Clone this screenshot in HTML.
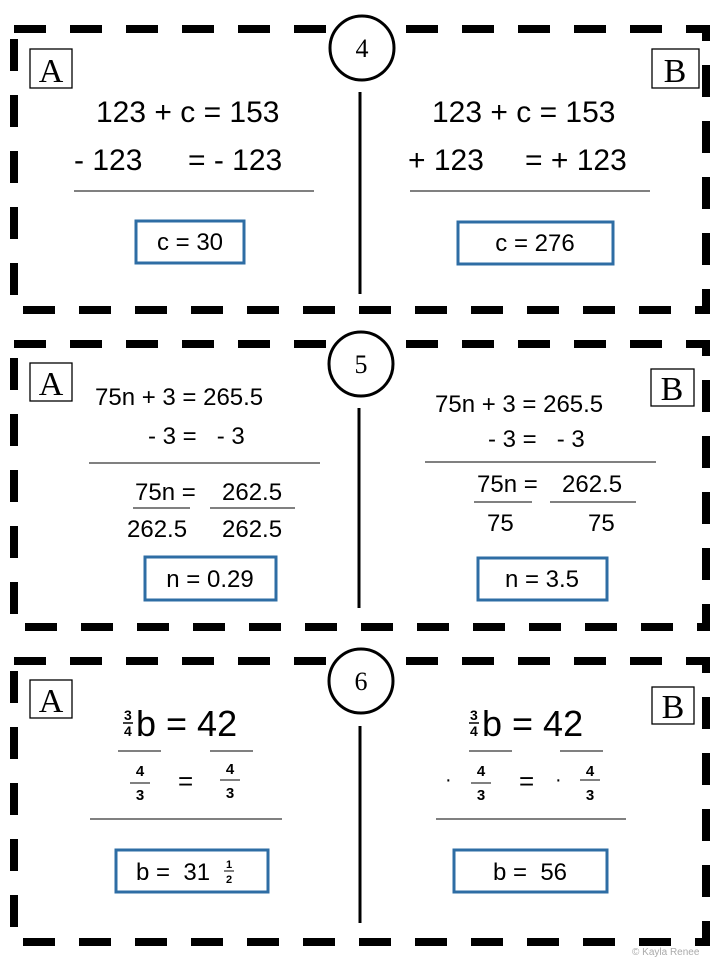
<!DOCTYPE html>
<html><head><meta charset="utf-8"><style>
html,body{margin:0;padding:0;background:#fff;}
svg{display:block;}
text{font-family:"Liberation Sans",sans-serif;fill:#000;white-space:pre;}
.l{font-family:"Liberation Serif",serif;font-size:34px;}
</style></head><body>
<svg width="720" height="960" viewBox="0 0 720 960" xml:space="preserve">
<g fill="none" stroke="#000" stroke-width="8" stroke-dasharray="32 24">
<rect x="14" y="29" width="692" height="281"/>
<rect x="14" y="344" width="692" height="283"/>
<rect x="14" y="661" width="692" height="281"/>
</g>
<g stroke="#000" stroke-width="3">
<line x1="360" y1="92" x2="360" y2="294"/>
<line x1="359" y1="408" x2="359" y2="608"/>
<line x1="360" y1="726" x2="360" y2="923"/>
</g>
<g fill="#fff" stroke="#000" stroke-width="3">
<circle cx="362" cy="48" r="32"/>
<circle cx="361" cy="364" r="32"/>
<circle cx="361" cy="681" r="32"/>
</g>
<g text-anchor="middle">
<text x="362" y="57" class="l" style="font-size:26px">4</text>
<text x="361" y="373" class="l" style="font-size:26px">5</text>
<text x="361" y="690" class="l" style="font-size:26px">6</text>
</g>
<g fill="#fff" stroke="#000" stroke-width="1.3">
<rect x="30" y="49" width="42" height="39"/>
<rect x="652" y="49" width="47" height="39"/>
<rect x="30" y="363" width="42" height="38"/>
<rect x="651" y="369" width="43" height="37"/>
<rect x="30" y="680" width="42" height="38"/>
<rect x="652" y="687" width="42" height="37"/>
</g>
<g text-anchor="middle">
<text x="51" y="82" class="l">A</text>
<text x="675" y="82" class="l">B</text>
<text x="51" y="395" class="l">A</text>
<text x="672" y="400" class="l">B</text>
<text x="51" y="712" class="l">A</text>
<text x="673" y="718" class="l">B</text>
</g>
<g font-size="30">
<text x="96" y="122">123 + c = 153</text>
<text x="74" y="170">- 123</text><text x="188" y="170">= - 123</text>
<text x="432" y="122">123 + c = 153</text>
<text x="408" y="170">+ 123</text><text x="525" y="170">= + 123</text>
</g>
<g stroke="#000" stroke-width="1">
<line x1="74" y1="191" x2="314" y2="191"/>
<line x1="410" y1="191" x2="650" y2="191"/>
</g>
<g fill="none" stroke="#2e6da4" stroke-width="3">
<rect x="136" y="221" width="108" height="42"/>
<rect x="458" y="222" width="155" height="42"/>
<rect x="145" y="557" width="131" height="43"/>
<rect x="478" y="558" width="129" height="42"/>
<rect x="116" y="850" width="152" height="42"/>
<rect x="454" y="850" width="153" height="42"/>
</g>
<g font-size="24" text-anchor="middle">
<text x="190" y="250">c = 30</text>
<text x="535" y="251">c = 276</text>
<text x="210" y="587">n = 0.29</text>
<text x="542" y="587">n = 3.5</text>
<text x="530" y="880">b =  56</text>
</g>
<text x="136" y="880" font-size="24">b =  31</text>
<text x="226" y="868" font-size="11" font-weight="bold">1</text>
<line x1="224" y1="871" x2="234" y2="871" stroke="#000" stroke-width="1"/>
<text x="226" y="883" font-size="11" font-weight="bold">2</text>
<g font-size="24">
<text x="95" y="405">75n + 3 = 265.5</text>
<text x="148" y="444">- 3 =   - 3</text>
<text x="135" y="500">75n =</text><text x="222" y="500">262.5</text>
<text x="127" y="537">262.5</text><text x="222" y="537">262.5</text>
<text x="435" y="412">75n + 3 = 265.5</text>
<text x="488" y="447">- 3 =   - 3</text>
<text x="477" y="492">75n =</text><text x="562" y="492">262.5</text>
<text x="487" y="531">75</text><text x="588" y="531">75</text>
</g>
<g stroke="#000" stroke-width="1">
<line x1="89" y1="463" x2="320" y2="463"/>
<line x1="133" y1="508" x2="190" y2="508"/>
<line x1="210" y1="508" x2="295" y2="508"/>
<line x1="425" y1="462" x2="656" y2="462"/>
<line x1="474" y1="502" x2="532" y2="502"/>
<line x1="550" y1="502" x2="636" y2="502"/>
<line x1="90" y1="819" x2="282" y2="819"/>
<line x1="436" y1="819" x2="626" y2="819"/>
<line x1="118" y1="751" x2="161" y2="751"/>
<line x1="210" y1="751" x2="253" y2="751"/>
<line x1="469" y1="751" x2="512" y2="751"/>
<line x1="560" y1="751" x2="603" y2="751"/>
</g>
<g>
<text x="124" y="720" font-size="14" font-weight="bold">3</text>
<line x1="123" y1="723" x2="133" y2="723" stroke="#000" stroke-width="1.5"/>
<text x="124" y="736" font-size="14" font-weight="bold">4</text>
<text x="136" y="736" font-size="36">b = 42</text>
<text x="470" y="720" font-size="14" font-weight="bold">3</text>
<line x1="469" y1="723" x2="479" y2="723" stroke="#000" stroke-width="1.5"/>
<text x="470" y="736" font-size="14" font-weight="bold">4</text>
<text x="482" y="736" font-size="36">b = 42</text>
</g>
<g font-size="15" font-weight="bold" text-anchor="middle">
<text x="140" y="776">4</text><text x="140" y="800">3</text>
<text x="230" y="774">4</text><text x="230" y="798">3</text>
<text x="481" y="776">4</text><text x="481" y="800">3</text>
<text x="590" y="776">4</text><text x="590" y="800">3</text>
</g>
<g stroke="#000" stroke-width="1">
<line x1="130" y1="783" x2="150" y2="783"/>
<line x1="220" y1="780" x2="240" y2="780"/>
<line x1="471" y1="783" x2="491" y2="783"/>
<line x1="580" y1="780" x2="600" y2="780"/>
</g>
<g font-size="26">
<text x="178" y="790">=</text>
<text x="519" y="790">=</text>
<text x="445" y="786" font-size="20">·</text>
<text x="555" y="786" font-size="20">·</text>
</g>
<text x="632" y="955" font-size="10" style="fill:#aaa">© Kayla Renee</text>
</svg>
</body></html>
